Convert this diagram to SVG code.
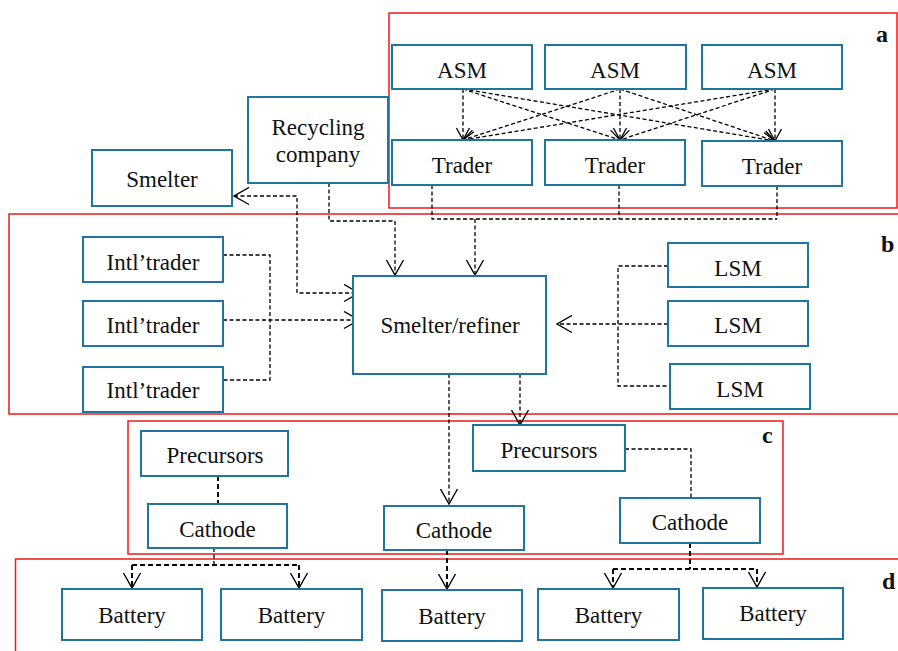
<svg xmlns="http://www.w3.org/2000/svg" width="898" height="651" viewBox="0 0 898 651">
  <style>
    .box { fill: #fff; stroke: #1f74a0; stroke-width: 2; }
    .lbl { font-family: "Liberation Serif", "Times New Roman", serif; font-size: 23px; fill: #111; text-anchor: middle; }
    .tag { font-family: "Liberation Serif", "Times New Roman", serif; font-size: 24px; font-weight: bold; fill: #111; }
    .zone { fill: none; stroke: #f01818; stroke-width: 1.5; }
    .dash { fill: none; stroke: #000; stroke-width: 1.3; stroke-dasharray: 4 2.5; }
    .dash2 { fill: none; stroke: #000; stroke-width: 1.9; stroke-dasharray: 5 3; }
  </style>
  <defs>
    <!-- large open V arrowhead -->
    <marker id="open" viewBox="0 0 17 19" refX="16" refY="9.5" markerWidth="17" markerHeight="19" markerUnits="userSpaceOnUse" orient="auto">
      <path d="M1,1 L16,9.5 L1,18" fill="none" stroke="#000" stroke-width="1.4"/>
    </marker>
    <marker id="openStart" viewBox="0 0 17 19" refX="16" refY="9.5" markerWidth="17" markerHeight="19" markerUnits="userSpaceOnUse" orient="auto-start-reverse">
      <path d="M1,1 L16,9.5 L1,18" fill="none" stroke="#000" stroke-width="1.4"/>
    </marker>
    <!-- smaller open V arrowhead for the miner/trader mesh -->
    <marker id="openSm" viewBox="0 0 14 15" refX="13" refY="7.5" markerWidth="14" markerHeight="15" markerUnits="userSpaceOnUse" orient="auto">
      <path d="M1,1 L13,7.5 L1,14" fill="none" stroke="#000" stroke-width="1.3"/>
    </marker>
  </defs>

  <rect width="898" height="651" fill="#fff"/>

  <!-- zone frames -->
  <g id="zones">
    <rect class="zone" x="389" y="13" width="508" height="195"/>
    <rect class="zone" x="9" y="214" width="900" height="200"/>
    <rect class="zone" x="128" y="421" width="655" height="133"/>
    <rect class="zone" x="15.5" y="559" width="900" height="100"/>
    <text class="tag" x="876" y="42">a</text>
    <text class="tag" x="881" y="252">b</text>
    <text class="tag" x="762" y="443">c</text>
    <text class="tag" x="882" y="589">d</text>
  </g>

  <!-- connectors -->
  <g id="connectors">
    <!-- ASM to traders -->
    <path class="dash" d="M463,89 L463,140" marker-end="url(#openSm)"/>
    <path class="dash" d="M463,89 L620,140" marker-end="url(#openSm)"/>
    <path class="dash" d="M463,89 L775,141" marker-end="url(#openSm)"/>
    <path class="dash" d="M620,89 L463,140" marker-end="url(#openSm)"/>
    <path class="dash" d="M620,89 L620,140" marker-end="url(#openSm)"/>
    <path class="dash" d="M620,89 L775,141" marker-end="url(#openSm)"/>
    <path class="dash" d="M775,89 L463,140" marker-end="url(#openSm)"/>
    <path class="dash" d="M775,89 L620,140" marker-end="url(#openSm)"/>
    <path class="dash" d="M775,89 L775,141" marker-end="url(#openSm)"/>
    <!-- traders to smelter/refiner -->
    <path class="dash" d="M432,185 L432,219 L777,219"/>
    <path class="dash" d="M619,185 L619,219"/>
    <path class="dash" d="M777,186 L777,219"/>
    <path class="dash" d="M475,219 L475,275" marker-end="url(#open)"/>
    <!-- recycling company -->
    <path class="dash" d="M329,183 L329,221 L395,221 L395,275" marker-end="url(#open)"/>
    <path class="dash" d="M234,196 L297,196 L297,293 L359,293" marker-start="url(#openStart)" marker-end="url(#open)"/>
    <!-- international traders -->
    <path class="dash" d="M223,255 L270,255 L270,380 L223,380"/>
    <path class="dash" d="M223,320 L359,320" marker-end="url(#open)"/>
    <!-- LSM -->
    <path class="dash" d="M668,266 L618,266 L618,386 L670,386"/>
    <path class="dash" d="M668,324 L557,324" marker-end="url(#open)"/>
    <!-- smelter/refiner outputs -->
    <path class="dash" d="M449,374 L449,504" marker-end="url(#open)"/>
    <path class="dash" d="M520,374 L520,425" marker-end="url(#open)"/>
    <!-- precursors to cathodes -->
    <path class="dash2" d="M218,476 L218,504"/>
    <path class="dash" d="M625,449 L691,449 L691,498"/>
    <!-- cathodes to batteries -->
    <path class="dash" d="M214,548 L214,565"/>
    <path class="dash2" d="M132,565 L299,565"/>
    <path class="dash2" d="M132,565 L132,588" marker-end="url(#open)"/>
    <path class="dash2" d="M299,565 L299,588" marker-end="url(#open)"/>
    <path class="dash2" d="M447,550 L447,589" marker-end="url(#open)"/>
    <path class="dash2" d="M690,543 L690,569"/>
    <path class="dash2" d="M613,569 L757,569"/>
    <path class="dash2" d="M613,569 L613,588" marker-end="url(#open)"/>
    <path class="dash2" d="M757,569 L757,587" marker-end="url(#open)"/>
  </g>

  <!-- zone a: artisanal miners and traders -->
  <g id="asm1"><rect class="box" x="392" y="45" width="140" height="44"/><text class="lbl" x="462" y="78">ASM</text></g>
  <g id="asm2"><rect class="box" x="545" y="45" width="141" height="44"/><text class="lbl" x="615" y="78">ASM</text></g>
  <g id="asm3"><rect class="box" x="702" y="45" width="140" height="44"/><text class="lbl" x="772" y="78">ASM</text></g>
  <g id="trader1"><rect class="box" x="392" y="140" width="140" height="45"/><text class="lbl" x="462" y="173">Trader</text></g>
  <g id="trader2"><rect class="box" x="545" y="140" width="140" height="45"/><text class="lbl" x="615" y="173">Trader</text></g>
  <g id="trader3"><rect class="box" x="702" y="141" width="140" height="45"/><text class="lbl" x="772" y="174">Trader</text></g>

  <!-- recycling and smelter -->
  <g id="recycling"><rect class="box" x="248" y="97" width="140" height="86"/><text class="lbl" x="318" y="135">Recycling</text><text class="lbl" x="318" y="162">company</text></g>
  <g id="smelter"><rect class="box" x="92" y="150" width="140" height="56"/><text class="lbl" x="162" y="187">Smelter</text></g>

  <!-- zone b -->
  <g id="intl1"><rect class="box" x="83" y="237" width="140" height="45"/><text class="lbl" x="153" y="270">Intl’trader</text></g>
  <g id="intl2"><rect class="box" x="83" y="301" width="140" height="45"/><text class="lbl" x="153" y="333">Intl’trader</text></g>
  <g id="intl3"><rect class="box" x="83" y="367" width="140" height="45"/><text class="lbl" x="153" y="398">Intl’trader</text></g>
  <g id="refiner"><rect class="box" x="353" y="276" width="193" height="98"/><text class="lbl" x="450" y="333">Smelter/refiner</text></g>
  <g id="lsm1"><rect class="box" x="668" y="243" width="140" height="44"/><text class="lbl" x="738" y="276">LSM</text></g>
  <g id="lsm2"><rect class="box" x="668" y="301" width="140" height="45"/><text class="lbl" x="738" y="333">LSM</text></g>
  <g id="lsm3"><rect class="box" x="670" y="364" width="140" height="45"/><text class="lbl" x="740" y="397">LSM</text></g>

  <!-- zone c -->
  <g id="precursors1"><rect class="box" x="141" y="431" width="147" height="45"/><text class="lbl" x="215" y="463">Precursors</text></g>
  <g id="cathode1"><rect class="box" x="148" y="504" width="139" height="44"/><text class="lbl" x="217.5" y="537">Cathode</text></g>
  <g id="cathode2"><rect class="box" x="384" y="506" width="140" height="44"/><text class="lbl" x="454" y="538">Cathode</text></g>
  <g id="precursors2"><rect class="box" x="473" y="425" width="152" height="46"/><text class="lbl" x="549" y="458">Precursors</text></g>
  <g id="cathode3"><rect class="box" x="620" y="498" width="140" height="45"/><text class="lbl" x="690" y="530">Cathode</text></g>

  <!-- zone d -->
  <g id="battery1"><rect class="box" x="62" y="589" width="140" height="51"/><text class="lbl" x="132" y="623">Battery</text></g>
  <g id="battery2"><rect class="box" x="221" y="589" width="141" height="51"/><text class="lbl" x="291.5" y="623">Battery</text></g>
  <g id="battery3"><rect class="box" x="382" y="590" width="140" height="51"/><text class="lbl" x="452" y="624">Battery</text></g>
  <g id="battery4"><rect class="box" x="538" y="589" width="141" height="51"/><text class="lbl" x="608.5" y="623">Battery</text></g>
  <g id="battery5"><rect class="box" x="703" y="588" width="140" height="51"/><text class="lbl" x="773" y="621">Battery</text></g>
</svg>
